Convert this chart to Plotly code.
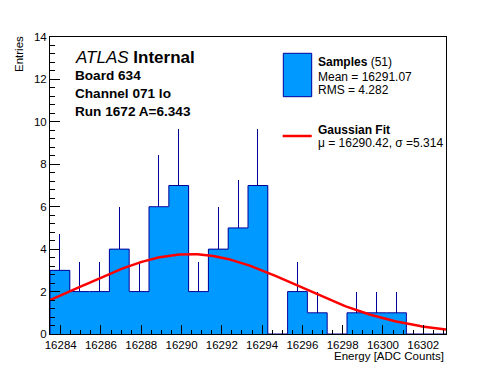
import numpy as np
import plotly.graph_objects as go

# ---- data ----
x_min = 16283.47
x_max = 16303.13
n_bins = 20
counts = [3, 2, 2, 4, 2, 6, 7, 2, 4, 5, 7, 0, 2, 1, 0, 1, 1, 1, 0, 0]
n_samples = 51
mean_txt = "16291.07"
rms_txt = "4.282"
fit_mu = 16290.42
fit_sigma = 5.314
x_ticks = [16284, 16286, 16288, 16290, 16292, 16294, 16296, 16298, 16300, 16302]
y_ticks = [0, 2, 4, 6, 8, 10, 12, 14]

# ---- derived ----
bw = (x_max - x_min) / n_bins
edges = x_min + bw * np.arange(n_bins + 1)
centers = 0.5 * (edges[:-1] + edges[1:])
counts = np.array(counts, dtype=float)
errs = np.sqrt(counts)

FILL = "#0099ff"
LINE = "#000099"
FONT = "Liberation Sans, Arial, Helvetica, sans-serif"

OFF = 8  # default body margin of the html page
W, H = 496, 372
L, R, T, B = 50, 446, 37, 334


def px(x):
    return (x - L) / (R - L)


def py(y):
    return (B - y) / (B - T)


fig = go.Figure()

# filled bars
fig.add_trace(go.Bar(
    x=centers, y=counts, width=bw,
    marker=dict(color=FILL, line=dict(width=0)),
    error_y=dict(type="data", symmetric=False, array=errs,
                 arrayminus=np.zeros_like(errs), width=0,
                 color=LINE, thickness=1),
    showlegend=False, hoverinfo="skip",
))

# histogram outline (step)
step_x = list(edges)
step_y = list(counts) + [0]
fig.add_trace(go.Scatter(
    x=[edges[0]] + step_x, y=[0] + step_y, mode="lines",
    line=dict(color=LINE, width=1, shape="hv"),
    showlegend=False, hoverinfo="skip",
))

# gaussian fit
amp = n_samples * bw / (np.sqrt(2 * np.pi) * fit_sigma)
gx = np.linspace(x_min, x_max, 200)
gy = amp * np.exp(-0.5 * ((gx - fit_mu) / fit_sigma) ** 2)
fig.add_trace(go.Scatter(
    x=gx, y=gy, mode="lines", line=dict(color="#ff0000", width=2.5),
    showlegend=False, hoverinfo="skip",
))

ann = []


def text(x, y, s, size, anchor="left", **kw):
    ann.append(dict(xref="paper", yref="paper", x=px(x), y=py(y), text=s,
                    showarrow=False, xanchor=anchor, yanchor="middle",
                    font=dict(family=FONT, size=size, color="black"), **kw))


text(73, 57.7, "<i>ATLAS</i> <b>Internal</b>", 17)
text(73, 76, "<b>Board 634</b>", 13.6)
text(73, 93.5, "<b>Channel 071 lo</b>", 13.6)
text(73, 111, "<b>Run 1672 A=6.343</b>", 13.6)

text(316, 61.5, "<b>Samples</b> (51)", 12)
text(316, 76.5, "Mean = " + mean_txt, 12)
text(316, 89.5, "RMS = " + rms_txt, 12)
text(316, 130, "<b>Gaussian Fit</b>", 12)
text(316, 143, "\u03bc = %.2f, \u03c3 =%.3f" % (fit_mu, fit_sigma), 12)

# axis titles
ann.append(dict(xref="paper", yref="paper", x=px(446), y=py(356),
                text="Energy [ADC Counts]", showarrow=False,
                xanchor="right", yanchor="middle",
                font=dict(family=FONT, size=11.5, color="black")))
ann.append(dict(xref="paper", yref="paper", x=px(19), y=py(34),
                text="Entries", showarrow=False, textangle=-90,
                xanchor="center", yanchor="top",
                font=dict(family=FONT, size=11.5, color="black")))

shapes = [
    dict(type="rect", xref="paper", yref="paper",
         x0=px(283.3), x1=px(311.7), y0=py(96.7), y1=py(53.3),
         fillcolor=FILL, line=dict(color=LINE, width=1)),
    dict(type="line", xref="paper", yref="paper",
         x0=px(282.7), x1=px(311.7), y0=py(136), y1=py(136),
         line=dict(color="#ff0000", width=2.5)),
]

fig.update_layout(
    width=W - OFF, height=H - OFF,
    margin=dict(l=L - OFF, r=W - R, t=T - OFF, b=H - B, pad=0),
    paper_bgcolor="white", plot_bgcolor="white",
    bargap=0, showlegend=False,
    annotations=ann, shapes=shapes,
    font=dict(family=FONT, size=11.5, color="black"),
    xaxis=dict(range=[x_min, x_max], tickvals=x_ticks,
               ticktext=[str(v) for v in x_ticks],
               ticks="inside", ticklen=9, tickcolor="black", tickwidth=1,
               minor=dict(dtick=0.5, tick0=16284, ticks="inside", ticklen=4.5,
                          tickcolor="black", tickwidth=1, showgrid=False),
               showline=True, linecolor="black", linewidth=1, mirror=True,
               showgrid=False, zeroline=False,
               tickfont=dict(family=FONT, size=11.5, color="black")),
    yaxis=dict(range=[0, 14], tickvals=y_ticks,
               ticktext=[str(v) for v in y_ticks],
               ticks="inside", ticklen=10, tickcolor="black", tickwidth=1,
               minor=dict(dtick=0.4, tick0=0, ticks="inside", ticklen=5,
                          tickcolor="black", tickwidth=1, showgrid=False),
               showline=True, linecolor="black", linewidth=1, mirror=True,
               showgrid=False, zeroline=False,
               tickfont=dict(family=FONT, size=11.5, color="black")),
)

fig.write_html("out.html")
